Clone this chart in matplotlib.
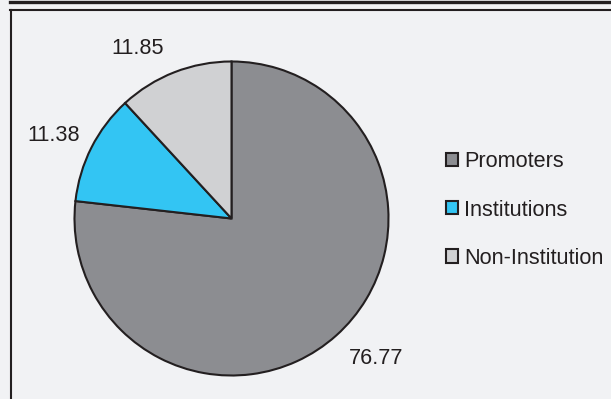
import matplotlib.pyplot as plt
from matplotlib.lines import Line2D

# Shareholding pattern (%)
categories = ["Promoters", "Institutions", "Non-Institution"]
shares = [76.77, 11.38, 11.85]
colors = ["#8c8d91", "#33c5f3", "#d0d1d3"]

plt.rcParams["font.family"] = ["Liberation Sans", "DejaVu Sans"]
bg = "#f1f2f4"
edge = "#231f20"
fs = 15.6

W, H = 611, 399
fig = plt.figure(figsize=(W / 100, H / 100), dpi=100, facecolor=bg)

# frame: dark band on top, box lines on top and left
fig.add_artist(Line2D([10 / W, 1], [1 - 1.6 / H, 1 - 1.6 / H], color=edge, lw=2.4))
fig.add_artist(Line2D([10 / W, 1], [1 - 10 / H, 1 - 10 / H], color=edge, lw=1.5))
fig.add_artist(Line2D([10.8 / W, 10.8 / W], [0, 1 - 10 / H], color=edge, lw=1.5))

# pie axes, square, centred on the pie
cx, cy, r = 231.5, 218.5, 157
ax = fig.add_axes([(cx - r) / W, 1 - (cy + r) / H, 2 * r / W, 2 * r / H])
ax.set_facecolor(bg)

wedges, _, autotexts = ax.pie(
    shares,
    colors=colors,
    startangle=90,
    counterclock=False,
    autopct=lambda p: f"{p:.2f}",
    pctdistance=1.25,
    wedgeprops=dict(edgecolor=edge, linewidth=1.5),
    textprops=dict(fontsize=fs, color=edge),
)
# value labels sit a little off the mid-angle, nudge them into place
label_pos = [(0.92, -0.89), (-1.13, 0.53), (-0.60, 1.08)]
for t, pos in zip(autotexts, label_pos):
    t.set_position(pos)

ax.set_xlim(-1, 1)
ax.set_ylim(-1, 1)
ax.set_aspect("equal")
ax.axis("off")

fig.legend(
    wedges,
    categories,
    loc="center left",
    bbox_to_anchor=(446 / W, 1 - 210 / H),
    frameon=False,
    fontsize=fs,
    handlelength=0.56,
    handleheight=0.56,
    handletextpad=0.28,
    labelspacing=1.25,
    borderpad=0,
    borderaxespad=0,
    labelcolor=edge,
)

fig.savefig("out.png", dpi=100, facecolor=bg)
